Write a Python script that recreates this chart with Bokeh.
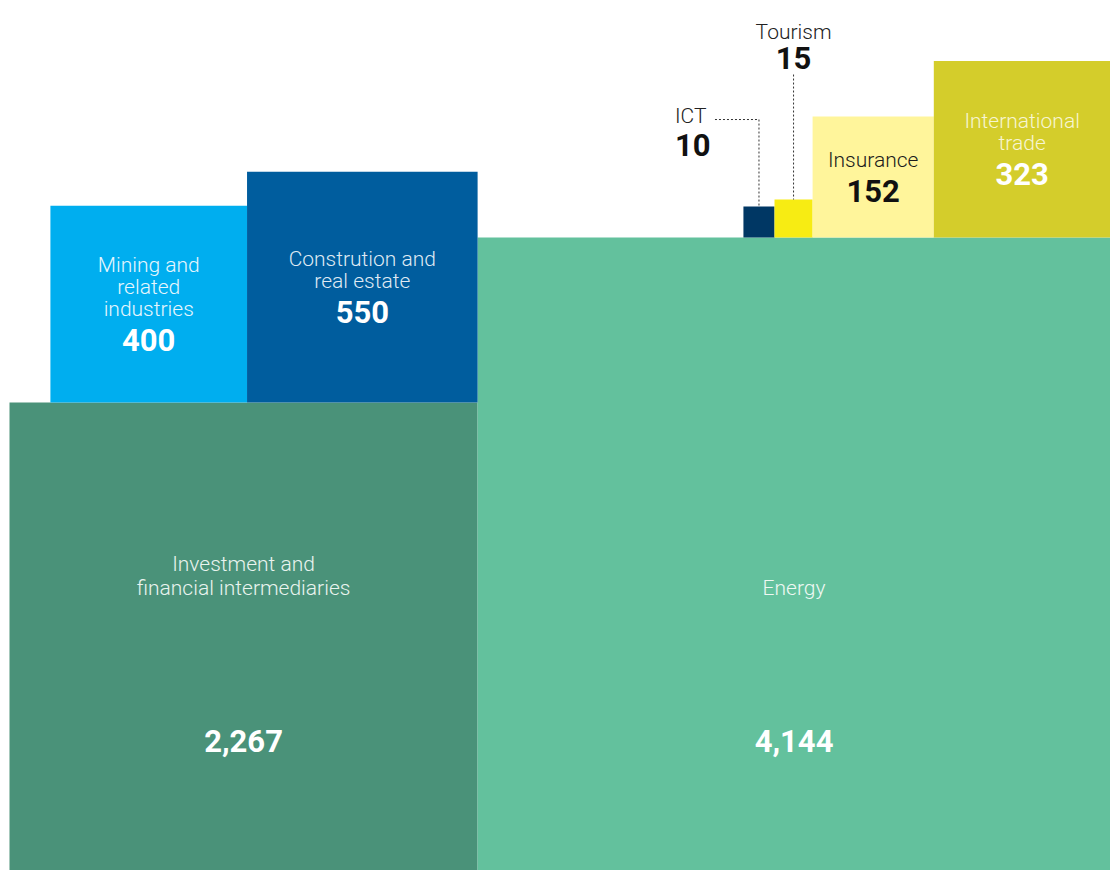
import math

from bokeh.core.properties import value
from bokeh.embed import file_html
from bokeh.models import ColumnDataSource, Range1d
from bokeh.plotting import figure
from bokeh.resources import INLINE

# Sectors and their amounts
sectors = [
    "Investment and financial intermediaries",
    "Energy",
    "Mining and related industries",
    "Constrution and real estate",
    "ICT",
    "Tourism",
    "Insurance",
    "International trade",
]
amounts = [2267, 4144, 400, 550, 10, 15, 152, 323]
display_labels = [
    "Investment and\nfinancial intermediaries",
    "Energy",
    "Mining and\nrelated\nindustries",
    "Constrution and\nreal estate",
    "ICT",
    "Tourism",
    "Insurance",
    "International\ntrade",
]
# index of the square each one sits on (None = ground row)
parents = [None, None, 0, 0, 1, 1, 1, 1]
label_modes = ["base", "base", "inside", "inside", "left", "above", "inside", "inside"]
fill_colors = ["#4a9279", "#63c19d", "#00aeef", "#005d9e", "#003764", "#f7ec13", "#fff59b", "#d4cd2b"]
label_colors = ["#e9f4ef", "#eef8f3", "#e6f6fd", "#dfe9f3", "#222222", "#222222", "#1b1b1b", "#f7f5d2"]
value_colors = ["#ffffff", "#ffffff", "#ffffff", "#ffffff", "#111111", "#111111", "#111111", "#ffffff"]

W, H = 1110, 870
PAD_LEFT = 9

n = len(amounts)
sides = [math.sqrt(v) for v in amounts]  # square area proportional to amount
base_total = sum(s for s, p in zip(sides, parents) if p is None)
K = (W - PAD_LEFT) / base_total  # screen pixels per data unit


def px(d):
    return d / K


# ground row, left to right
left = [0.0] * n
bottom = [0.0] * n
x = 0.0
for i in range(n):
    if parents[i] is None:
        left[i] = x
        x += sides[i]

# stacked squares, right-aligned on top of their parent
for j in range(n):
    kids = [i for i in range(n) if parents[i] == j]
    if not kids:
        continue
    cx = left[j] + sides[j] - sum(sides[i] for i in kids)
    for i in kids:
        left[i] = cx
        bottom[i] = bottom[j] + sides[j]
        cx += sides[i]

right = [l + s for l, s in zip(left, sides)]
top = [b + s for b, s in zip(bottom, sides)]

p = figure(
    width=W,
    height=H,
    x_range=Range1d(-px(PAD_LEFT), base_total),
    y_range=Range1d(0, px(H)),
    output_backend="svg",
    toolbar_location=None,
    min_border=0,
)
p.axis.visible = False
p.grid.visible = False
p.outline_line_color = None
p.background_fill_color = "white"
p.border_fill_color = "white"

squares = ColumnDataSource(dict(left=left, right=right, bottom=bottom, top=top, color=fill_colors))
p.quad(left="left", right="right", bottom="bottom", top="top", fill_color="color",
       line_color=None, source=squares)

lab = {"center": dict(x=[], y=[], text=[], color=[]), "left": dict(x=[], y=[], text=[], color=[])}
val = {"center": dict(x=[], y=[], text=[], color=[]), "left": dict(x=[], y=[], text=[], color=[])}
leaders = dict(xs=[], ys=[])


def add(store, align, xx, yy, txt, col):
    store[align]["x"].append(xx)
    store[align]["y"].append(yy)
    store[align]["text"].append(txt)
    store[align]["color"].append(col)


for i in range(n):
    lines = display_labels[i].split("\n")
    cx = (left[i] + right[i]) / 2
    cy = (bottom[i] + top[i]) / 2
    vtxt = f"{amounts[i]:,}"
    mode = label_modes[i]
    if mode == "base":
        last = bottom[i] + px(283)
        for k, ln in enumerate(lines):
            add(lab, "center", cx, last + px(24) * (len(lines) - 1 - k), ln, label_colors[i])
        add(val, "center", cx, bottom[i] + px(130), vtxt, value_colors[i])
    elif mode == "inside":
        span = (len(lines) - 1) * 22 + 31
        mid = cy + px(2)
        first = mid + px(span / 2)
        for k, ln in enumerate(lines):
            add(lab, "center", cx, first - px(22) * k, ln, label_colors[i])
        add(val, "center", cx, mid - px(span / 2), vtxt, value_colors[i])
    elif mode == "left":
        ly = top[i] + px(87)
        add(lab, "left", cx - px(84), ly + px(4), lines[0], label_colors[i])
        add(val, "left", cx - px(84), ly - px(25), vtxt, value_colors[i])
        leaders["xs"].append([cx - px(44), cx, cx])
        leaders["ys"].append([ly, ly, top[i]])
    elif mode == "above":
        add(lab, "center", cx, top[i] + px(168), lines[0], label_colors[i])
        add(val, "center", cx, top[i] + px(142), vtxt, value_colors[i])
        leaders["xs"].append([cx, cx])
        leaders["ys"].append([top[i] + px(125), top[i]])

p.multi_line(xs="xs", ys="ys", source=ColumnDataSource(leaders), line_color="#333333",
             line_width=1, line_dash="2 2")

for align in ("center", "left"):
    p.text(x="x", y="y", text="text", source=ColumnDataSource(lab[align]),
           text_align=align, text_baseline="middle", text_color="color",
           text_font=value("'Roboto Light', Roboto"), text_font_size="21px")
    p.text(x="x", y="y", text="text", source=ColumnDataSource(val[align]),
           text_align=align, text_baseline="middle", text_color="color",
           text_font=value("Roboto"), text_font_style="bold", text_font_size="31px")

open("out.html", "w").write(file_html(p, INLINE))
